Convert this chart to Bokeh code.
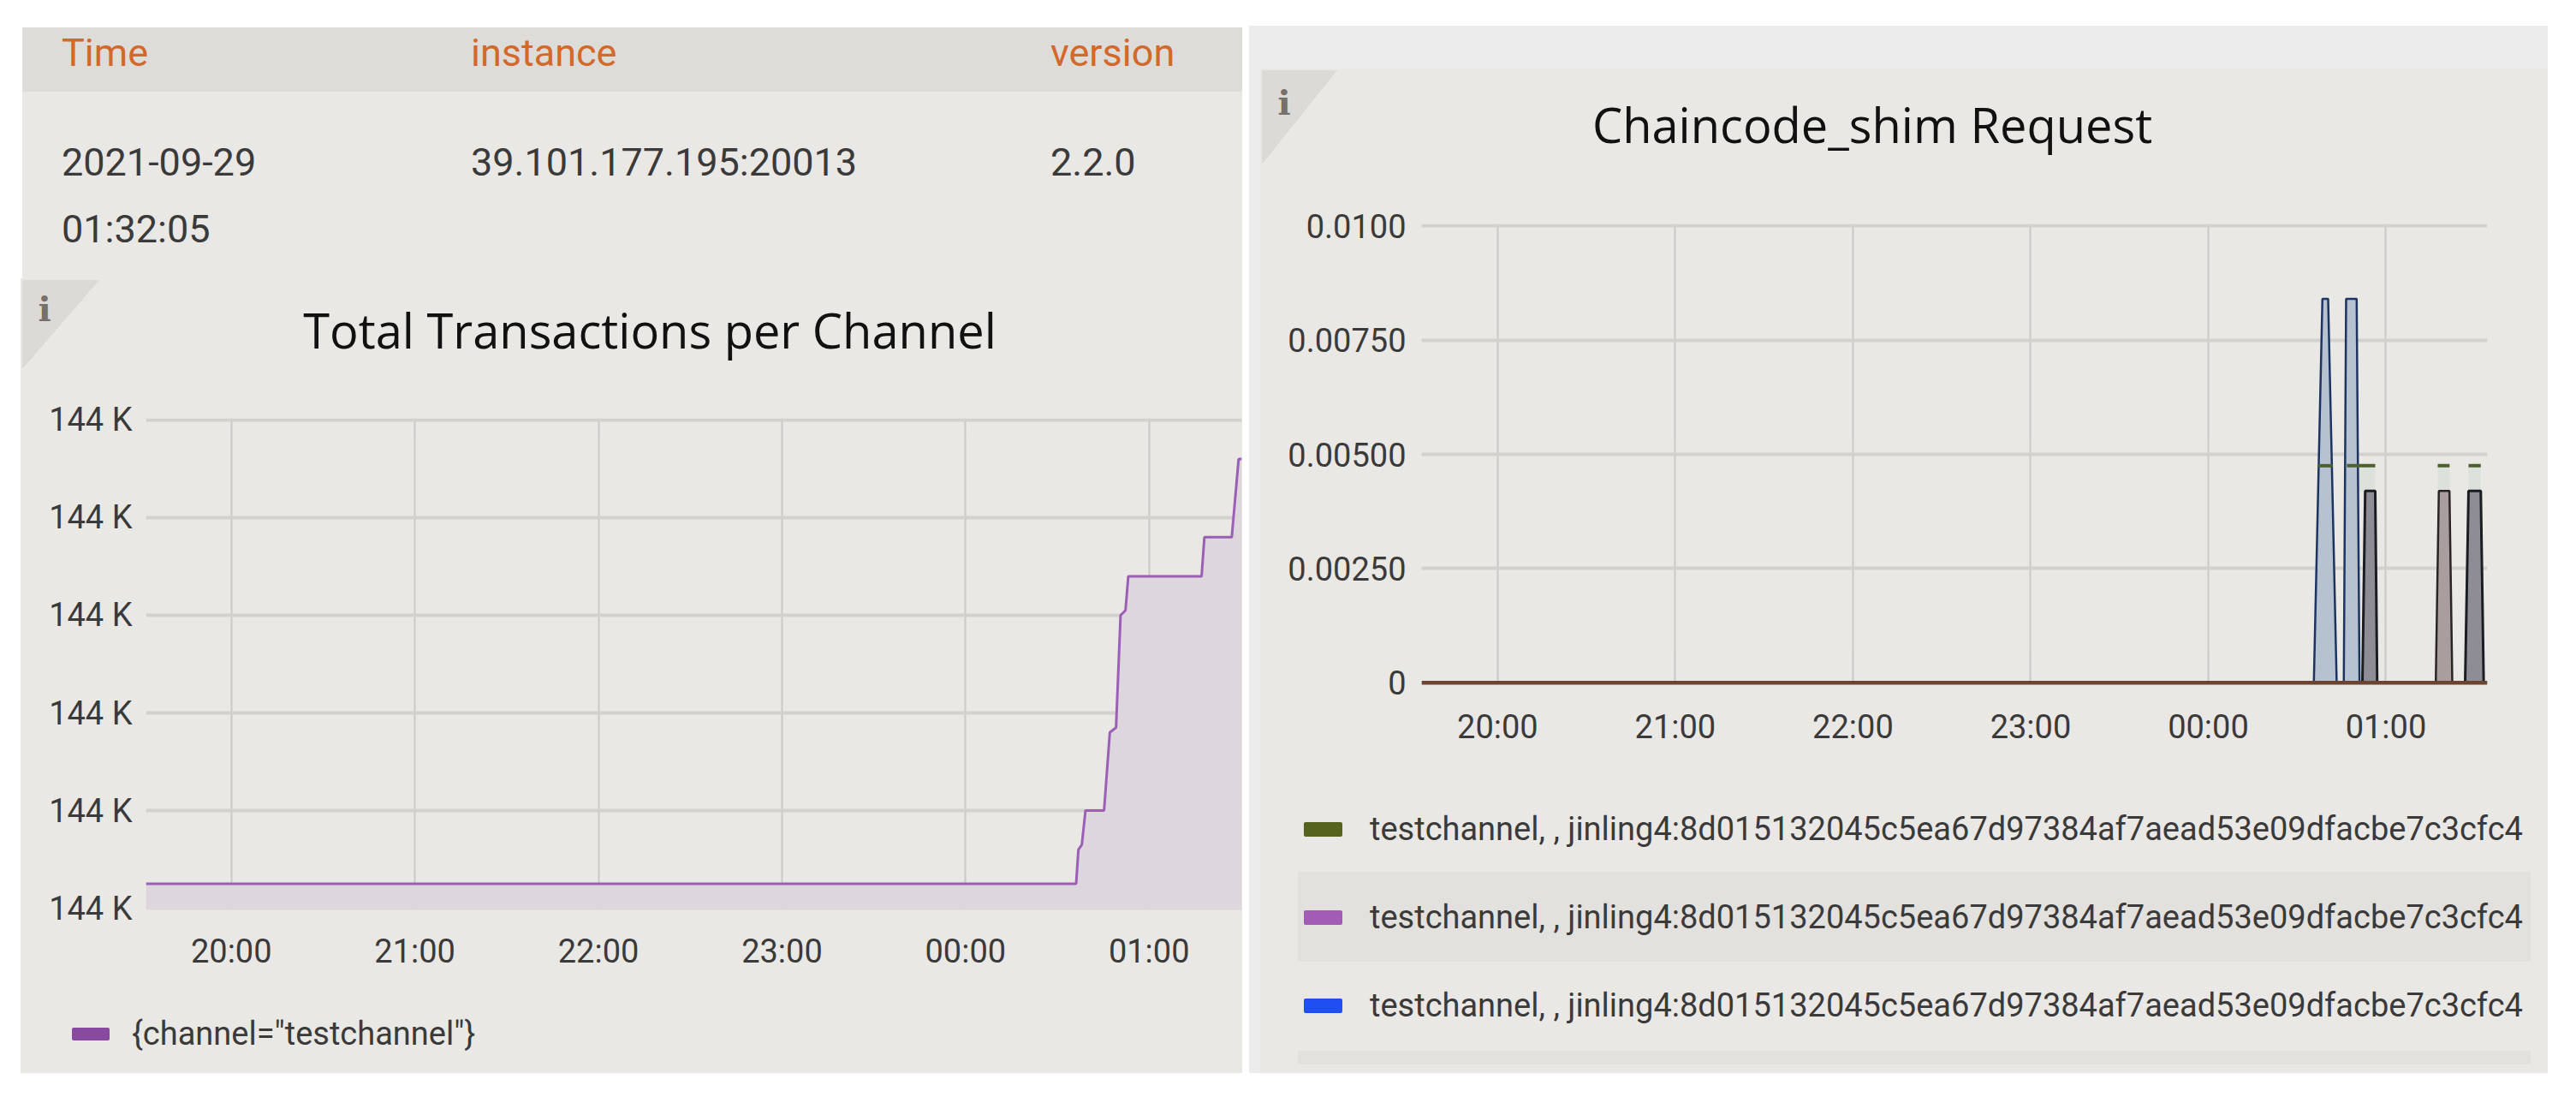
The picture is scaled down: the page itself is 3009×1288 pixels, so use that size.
from bokeh.plotting import figure
from bokeh.models import Range1d, FixedTicker, Div, Spacer
from bokeh.layouts import row, column
from bokeh.embed import file_html
from bokeh.resources import INLINE

# ---------------- data ----------------
table_columns = ["Time", "instance", "version"]
table_values = ["2021-09-29 01:32:05", "39.101.177.195:20013", "2.2.0"]

hour_tick_labels = ["20:00", "21:00", "22:00", "23:00", "00:00", "01:00"]

tx_title = "Total Transactions per Channel"
tx_range = ["19:32:05", "01:30:18"]
tx_times = ["19:32:05", "00:36:09", "00:36:54", "00:38:01", "00:39:13", "00:45:17",
            "00:47:10", "00:49:12", "00:50:41", "00:52:17", "00:53:12", "01:17:10",
            "01:18:05", "01:27:02", "01:29:16", "01:30:18"]
tx_values = [143905, 143905, 143912, 143913, 143920, 143920, 143936, 143937,
             143960, 143961, 143968, 143968, 143976, 143976, 143992, 143992]
tx_yticks = [143900, 143920, 143940, 143960, 143980, 144000]
tx_ytick_labels = ["144 K", "144 K", "144 K", "144 K", "144 K", "144 K"]
tx_legend_labels = ['{channel="testchannel"}']
tx_legend_colors = ["#884a9e"]

shim_title = "Chaincode_shim Request"
shim_range = ["19:34:18", "01:34:16"]
shim_blue_times = ["00:35:39", "00:37:06", "00:38:33", "00:40:29", "00:41:56", "00:43:22",
                   "00:45:46", "00:46:33", "00:50:07", "00:51:05"]
shim_blue_values = [0, 0.0042, 0.0084, 0.0084, 0.0042, 0, 0, 0.0084, 0.0084, 0]
shim_dark_times = ["00:52:03", "00:53:00", "00:56:23", "00:57:03",
                   "01:26:45", "01:27:54", "01:32:02", "01:33:01"]
shim_dark_values = [0, 0.0042, 0.0042, 0, 0, 0.0042, 0.0042, 0]
shim_mauve_times = ["01:16:50", "01:17:52", "01:21:27", "01:22:25"]
shim_mauve_values = [0, 0.0042, 0.0042, 0]
shim_cap_start = ["00:37:06", "00:46:50", "01:17:30", "01:27:54"]
shim_cap_end = ["00:41:56", "00:56:23", "01:21:30", "01:32:02"]
shim_cap_low = [0.0042, 0.0042, 0.0042, 0.0042]
shim_cap_high = [0.00475, 0.00475, 0.00475, 0.00475]
shim_zero_times = ["19:34:18", "01:34:16"]
shim_zero_values = [0, 0]
shim_yticks = [0, 0.0025, 0.005, 0.0075, 0.01]
shim_ytick_labels = ["0", "0.00250", "0.00500", "0.00750", "0.0100"]
shim_legend_labels = ["testchannel, , jinling4:8d015132045c5ea67d97384af7aead53e09dfacbe7c3cfc4"] * 3
shim_legend_colors = ["#56631f", "#a35cb6", "#1f4ff2"]


def to_min(t):
    h, m, s = (int(v) for v in t.split(":"))
    v = h * 60 + m + s / 60.0
    if h < 12:
        v += 24 * 60
    return v - 20 * 60


def mins(lst):
    return [to_min(t) for t in lst]


hour_ticks = mins([t + ":00" for t in hour_tick_labels])

PANEL = "#eae8e5"
TEXT = "#3a3a3a"
FONT = "Roboto"


def style(p, xstand, ystand):
    p.background_fill_color = PANEL
    p.border_fill_color = PANEL
    p.outline_line_color = None
    for ax in (p.xaxis[0], p.yaxis[0]):
        ax.axis_line_color = None
        ax.major_tick_line_color = None
        ax.minor_tick_line_color = None
        ax.major_tick_in = 0
        ax.major_tick_out = 0
        ax.major_label_text_font = FONT
        ax.major_label_text_font_size = "38px"
        ax.major_label_text_color = TEXT
    p.xaxis[0].major_label_standoff = xstand
    p.yaxis[0].major_label_standoff = ystand
    p.xaxis[0].ticker = FixedTicker(ticks=hour_ticks)
    p.xaxis[0].major_label_overrides = {t: l for t, l in zip(hour_ticks, hour_tick_labels)}
    p.xgrid.ticker = FixedTicker(ticks=hour_ticks)
    p.xgrid.grid_line_color = "#cbc9c6"
    p.xgrid.grid_line_width = 2
    p.ygrid.grid_line_color = "#d3d1ce"
    p.ygrid.grid_line_width = 4


def header_div(title, width, height, title_center, title_top, tri_w, tri_h, i_top):
    html = ('<div style="position:relative;width:%dpx;height:%dpx;background:%s;overflow:hidden;">'
            '<div style="position:absolute;left:2px;top:2px;width:%dpx;height:%dpx;'
            'background:linear-gradient(to bottom right, #dcdad6 50%%, rgba(0,0,0,0) 50%%);"></div>'
            '<div style="position:absolute;left:18px;top:%dpx;width:20px;text-align:center;'
            'font-family:\'DejaVu Serif\';font-weight:bold;font-size:40px;line-height:44px;color:#75716c;">i</div>'
            '<div style="position:absolute;left:0px;top:%dpx;width:%dpx;text-align:center;'
            'font-family:\'Open Sans\';font-size:56px;line-height:76px;color:#111111;white-space:nowrap;">%s</div>'
            '</div>') % (width, height, PANEL, tri_w, tri_h, i_top, title_top, 2 * title_center, title)
    return Div(text=html, width=width, height=height, margin=0)


def legend_div(width, height, labels, colors, first_center, step, sw_left, sw_w, sw_h,
               text_left, bands):
    parts = ['<div style="position:relative;width:%dpx;height:%dpx;background:%s;overflow:hidden;'
             'font-family:Roboto;font-size:38px;color:%s;">' % (width, height, PANEL, TEXT)]
    for (btop, bh) in bands:
        parts.append('<div style="position:absolute;left:44px;top:%dpx;width:1440px;height:%dpx;'
                     'background:#e3e1de;"></div>' % (btop, bh))
    for k, (lab, col) in enumerate(zip(labels, colors)):
        c = first_center + k * step
        parts.append('<div style="position:absolute;left:%dpx;top:%dpx;width:%dpx;height:%dpx;'
                     'background:%s;border-radius:2px;"></div>' % (sw_left, c - sw_h // 2, sw_w, sw_h, col))
        parts.append('<div style="position:absolute;left:%dpx;top:%dpx;line-height:44px;'
                     'white-space:nowrap;">%s</div>' % (text_left, c - 22, lab))
    parts.append('</div>')
    return Div(text="".join(parts), width=width, height=height, margin=0)


# ---------------- table (Div) ----------------
xs_cols = [48, 526, 1203]
html = ['<div style="position:relative;width:1427px;height:295px;background:#ffffff;'
        'font-family:Roboto;font-size:45px;">',
        '<div style="position:absolute;left:2px;top:2px;width:1425px;height:293px;background:%s;"></div>' % PANEL,
        '<div style="position:absolute;left:2px;top:2px;width:1425px;height:75px;background:#dedcd9;"></div>']
for x, c in zip(xs_cols, table_columns):
    html.append('<div style="position:absolute;left:%dpx;top:6px;line-height:52px;color:#d2692a;'
                'white-space:nowrap;">%s</div>' % (x, c))
for x, v in zip(xs_cols, table_values):
    wrap = "width:300px;" if " " in v else "white-space:nowrap;"
    html.append('<div style="position:absolute;left:%dpx;top:121px;line-height:78px;color:%s;%s">%s</div>'
                % (x, TEXT, wrap, v))
html.append('</div>')
table_div = Div(text="".join(html), width=1427, height=295, margin=0)

# ---------------- left chart ----------------
tx_head = header_div(tx_title, 1427, 125, 735, 22, 90, 104, 14)

tx_x = mins(tx_times)
ylo = tx_yticks[0] - 0.35
p1 = figure(width=1427, height=705, output_backend="svg", toolbar_location=None,
            x_range=Range1d(*mins(tx_range)), y_range=Range1d(ylo, tx_yticks[-1] + 0.35),
            min_border_left=146, min_border_right=1, min_border_top=38, min_border_bottom=93,
            margin=0)
style(p1, 26, 16)
p1.yaxis[0].ticker = FixedTicker(ticks=tx_yticks)
p1.yaxis[0].major_label_overrides = {t: l for t, l in zip(tx_yticks, tx_ytick_labels)}
p1.ygrid.ticker = FixedTicker(ticks=tx_yticks)
p1.varea(x=tx_x, y1=[ylo] * len(tx_x), y2=tx_values, fill_color="#ddd7dd")
p1.line(tx_x, tx_values, line_color="#9b5fb5", line_width=3)

tx_leg = legend_div(1427, 98, tx_legend_labels, tx_legend_colors, 52, 0, 60, 44, 15, 130, [])

# ---------------- right chart ----------------
shim_head = header_div(shim_title, 1504, 140, 715, 27, 88, 110, 18)

ylo2 = -0.0000375
p2 = figure(width=1504, height=680, output_backend="svg", toolbar_location=None,
            x_range=Range1d(*mins(shim_range)), y_range=Range1d(ylo2, 0.01 + 0.0000375),
            min_border_left=188, min_border_right=71, min_border_top=41, min_border_bottom=101,
            margin=0)
style(p2, 27, 18)
p2.yaxis[0].ticker = FixedTicker(ticks=shim_yticks)
p2.yaxis[0].major_label_overrides = {t: l for t, l in zip(shim_yticks, shim_ytick_labels)}
p2.ygrid.ticker = FixedTicker(ticks=shim_yticks)

p2.quad(left=mins(shim_cap_start), right=mins(shim_cap_end), bottom=shim_cap_low, top=shim_cap_high,
        fill_color="#dde1db", line_color=None)
bx = mins(shim_blue_times)
p2.varea(x=bx, y1=[0] * len(bx), y2=shim_blue_values, fill_color="#b6c2d0")
dx = mins(shim_dark_times)
p2.varea(x=dx, y1=[0] * len(dx), y2=shim_dark_values, fill_color="#8e8c94")
mx = mins(shim_mauve_times)
p2.varea(x=mx, y1=[0] * len(mx), y2=shim_mauve_values, fill_color="#a99d9e")
p2.line(bx, shim_blue_values, line_color="#1d3461", line_width=2.5)
p2.line(dx, shim_dark_values, line_color="#1a1d22", line_width=3)
p2.line(mx, shim_mauve_values, line_color="#2a2525", line_width=2.5)
p2.segment(x0=mins(shim_cap_start), x1=mins(shim_cap_end), y0=shim_cap_high, y1=shim_cap_high,
           line_color="#4e6030", line_width=4)
p2.line(mins(shim_zero_times), shim_zero_values, line_color="#6b4532", line_width=5)

shim_leg = legend_div(1504, 353, shim_legend_labels, shim_legend_colors, 68, 103, 51, 45, 17, 128,
                      [(118, 105), (327, 16)])

band = Div(text="", width=1517, height=50, margin=0, styles={"background-color": "#ececec"})
strip = Div(text="", width=13, height=1173, margin=0, styles={"background-color": "#ececec"})

left_col = column(table_div, tx_head, p1, tx_leg, styles={"background-color": PANEL})
right_inner = column(shim_head, p2, shim_leg, styles={"background-color": PANEL})

layout = column(
    Spacer(width=2976, height=30),
    row(Spacer(width=24, height=1223),
        left_col,
        Spacer(width=8, height=1223),
        column(band, row(strip, right_inner))),
)

open("out.html", "w").write(file_html(layout, INLINE))
